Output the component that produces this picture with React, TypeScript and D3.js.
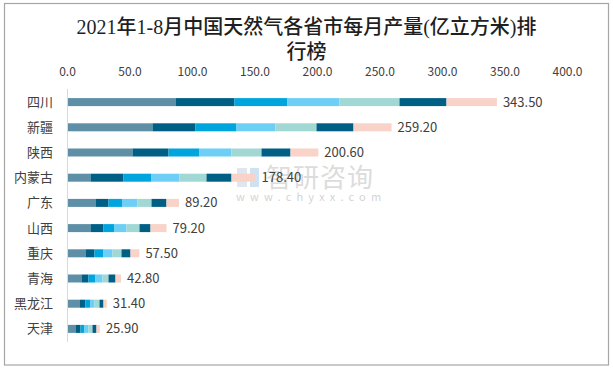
import React from "react";
import * as d3 from "d3";

const provinces = ["四川", "新疆", "陕西", "内蒙古", "广东", "山西", "重庆", "青海", "黑龙江", "天津"];
const totals = [343.5, 259.2, 200.6, 178.4, 89.2, 79.2, 57.5, 42.8, 31.4, 25.9];
const seriesNames = ["1-2月", "3月", "4月", "5月", "6月", "7月", "8月"];
const janFeb = [86.4, 68, 52, 18.4, 22.4, 18.4, 14.4, 11.2, 9.6, 6.4];
const mar = [47.2, 34.4, 28.8, 26.4, 10.4, 10.4, 7.2, 5.6, 4.8, 4];
const apr = [42.4, 32.8, 24.8, 22.4, 11.2, 8.8, 7.2, 5.6, 4, 3.2];
const may = [41.6, 31.2, 25.6, 22.4, 12, 9.6, 7.2, 5.6, 3.2, 3.2];
const jun = [48, 32.8, 24, 21.6, 11.2, 10.4, 7.2, 4.8, 4, 3.2];
const jul = [37.6, 29.6, 23.2, 20, 12, 8.8, 7.2, 5.6, 3.2, 3.2];
const aug = [40.3, 30.4, 22.2, 19.2, 10, 12.8, 7.1, 4.4, 2.6, 2.7];
const xTicks = [0, 50, 100, 150, 200, 250, 300, 350, 400];
const titleLines = ["2021年1-8月中国天然气各省市每月产量(亿立方米)排", "行榜"];

const seriesValues = [janFeb, mar, apr, may, jun, jul, aug];
const colors = ["#5e8fa7", "#005f85", "#00a5de", "#6dcff5", "#a1d8d4", "#005f85", "#f9d2c8"];

const W = 613;
const H = 370;

export default function App() {
  const x = d3.scaleLinear().domain([0, 400]).range([67.5, 567.5]);
  const y = d3.scaleBand<string>().domain(provinces).range([89.5, 341.5]);
  const barH = 8;

  const table = provinces.map((p, i) => {
    const row: Record<string, number | string> = { province: p };
    seriesNames.forEach((s, k) => (row[s] = seriesValues[k][i]));
    return row;
  });
  const stack = d3.stack<Record<string, number | string>>().keys(seriesNames).value((d, k) => d[k] as number);
  const stacked = stack(table);

  const cjk = "'Noto Sans CJK SC', 'Noto Sans', sans-serif";
  const labelColor = "#404040";

  return (
    <svg width={W} height={H} style={{ position: "absolute", left: 0, top: 0, background: "#fff" }}>
      <rect x={0} y={0} width={W} height={H} fill="#fff" />
      <rect x={4.5} y={3.5} width={604} height={361.5} fill="none" stroke="#a6a6a6" strokeWidth={1.2} />
      {titleLines.map((t, i) => (
        <text
          key={i}
          x={306.5}
          y={34 + i * 25}
          textAnchor="middle"
          fontFamily={"'Liberation Serif', 'Noto Sans CJK SC', serif"}
          fontSize={20}
          fontWeight={500}
          fill="#1f1f1f"
        >
          {t}
        </text>
      ))}
      {xTicks.map((t) => (
        <text key={t} x={x(t)} y={76} textAnchor="middle" fontFamily={cjk} fontSize={12} fill={labelColor}>
          {t.toFixed(1)}
        </text>
      ))}
      {/* watermark */}
      <g>
        <rect x={237} y={168} width={10} height={8} fill="#dfe6ee" />
        <rect x={237} y={179} width={10} height={8} fill="#dfe6ee" />
        <rect x={250} y={168} width={9} height={19} fill="#cfe2f2" />
        <text x={266} y={187} fontFamily={cjk} fontSize={26} fill="#dcdcdc" letterSpacing={1}>
          智研咨询
        </text>
        <text x={236} y={201} fontFamily={cjk} fontSize={11} fill="#d4d4d4" letterSpacing={5.2}>
          www.chyxx.com
        </text>
      </g>
      {stacked.map((layer, k) => (
        <g key={k} fill={colors[k]}>
          {layer.map((d, i) => (
            <rect
              key={i}
              x={x(d[0])}
              y={(y(provinces[i]) as number) + y.bandwidth() / 2 - barH / 2}
              width={x(d[1]) - x(d[0])}
              height={barH}
            />
          ))}
        </g>
      ))}
      <line x1={67.5} x2={67.5} y1={89} y2={342} stroke="#d9d9d9" strokeWidth={1} />
      {provinces.map((p, i) => {
        const cy = (y(p) as number) + y.bandwidth() / 2;
        const end = stacked[stacked.length - 1][i][1];
        return (
          <g key={p}>
            <text x={53} y={cy + 4.5} textAnchor="end" fontFamily={cjk} fontSize={13} fill={labelColor}>
              {p}
            </text>
            <text x={x(end) + 6} y={cy + 4.5} fontFamily={cjk} fontSize={13} fill={labelColor}>
              {totals[i].toFixed(2)}
            </text>
          </g>
        );
      })}
    </svg>
  );
}
